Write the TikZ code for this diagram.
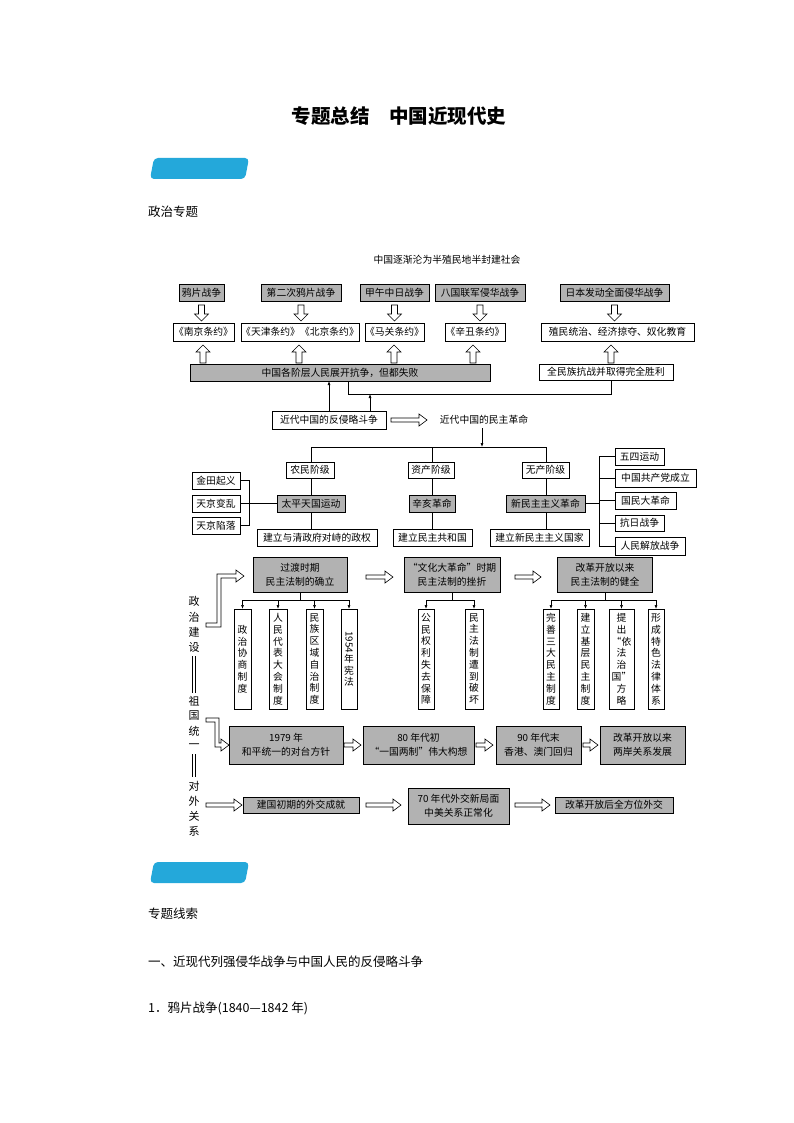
\documentclass[tikz,border=0pt]{standalone}
\usepackage{fontspec}
\setmainfont{Noto Sans CJK SC}
\usetikzlibrary{arrows.meta}
\definecolor{gbox}{RGB}{178,178,178}
\definecolor{pill}{RGB}{36,168,218}
\tikzset{
 bx/.style={draw,line width=0.6pt,inner sep=0pt,outer sep=0pt,font=\fontsize{9.8}{11}\selectfont},
 hol/.style={draw,fill=white,line width=0.6pt,line join=miter},
 arr/.style={line width=0.6pt,-{Latex[length=4pt,width=3pt]}},
 ln/.style={line width=0.6pt},
 vt/.style={font=\fontsize{11}{12}\selectfont,inner sep=0pt},
 body/.style={font=\fontsize{12.5}{14}\selectfont,anchor=west,inner sep=0pt}
}
\newcommand\bx[7]{\node[bx,fill=#6,minimum width={#3pt-#2pt},minimum height={#5pt-#4pt}] (#1) at ({(#2+#3)/2},{(#4+#5)/2}) {#7};}
\newcommand\vb[7]{\node[bx,fill=#6,minimum width={#3pt-#2pt},minimum height={#5pt-#4pt},align=center,font=\fontsize{9.8}{11.8}\selectfont] (#1) at ({(#2+#3)/2},{(#4+#5)/2}) {#7};}
\newcommand\hdn[3]{\draw[hol] ({#1-3},#2)--({#1+3},#2)--({#1+3},{#3-7})--({#1+7},{#3-7})--(#1,#3)--({#1-7},{#3-7})--({#1-3},{#3-7})--cycle;}
\newcommand\hup[3]{\draw[hol] ({#1-3},#3)--({#1+3},#3)--({#1+3},{#2+7})--({#1+7},{#2+7})--(#1,#2)--({#1-7},{#2+7})--({#1-3},{#2+7})--cycle;}
\newcommand\hrt[3]{\draw[hol] (#1,{#3-2})--({#2-8},{#3-2})--({#2-8},{#3-6})--(#2,#3)--({#2-8},{#3+6})--({#2-8},{#3+2})--(#1,{#3+2})--cycle;}
\begin{document}
\begin{tikzpicture}[x=1pt,y=-1pt]
\useasboundingbox (0,0) rectangle (794,1123);
\fill[white] (0,0) rectangle (794,1123);
% title
\node[font=\fontsize{19.5}{21}\selectfont\bfseries] (title) at (399,116) {专题总结\quad 中国近现代史};
\fill[pill,rounded corners=4pt] (154,158)--(249,158)--(245,179)--(150,179)--cycle;
\fill[pill,rounded corners=4pt] (154,862)--(249,862)--(245,883)--(150,883)--cycle;
\node[body] (zz) at (148,212) {政治专题};
\node[font=\fontsize{9.8}{11}\selectfont] (top) at (447,260) {中国逐渐沦为半殖民地半封建社会};
% row 1
\bx{a1}{179}{224}{284}{301}{gbox}{鸦片战争}
\bx{a2}{261}{341}{284}{301}{gbox}{第二次鸦片战争}
\bx{a3}{360}{429}{284}{301}{gbox}{甲午中日战争}
\bx{a4}{435}{525}{284}{301}{gbox}{八国联军侵华战争}
\bx{a5}{560}{669}{284}{301}{gbox}{日本发动全面侵华战争}
\hdn{201.5}{305}{321}\hdn{301}{305}{321}\hdn{394.5}{305}{321}\hdn{480}{305}{321}\hdn{614.5}{305}{321}
\bx{b1}{173}{234}{323}{341}{white}{《南京条约》}
\bx{b2}{241}{359}{323}{341}{white}{《天津条约》《北京条约》}
\bx{b3}{365}{424}{323}{341}{white}{《马关条约》}
\bx{b4}{445}{505}{323}{341}{white}{《辛丑条约》}
\bx{b5}{541}{694}{323}{341}{white}{殖民统治、经济掠夺、奴化教育}
\hup{203}{345}{363}\hup{299}{345}{363}\hup{394}{345}{363}\hup{473}{345}{363}\hup{611}{345}{363}
\bx{gk}{190}{490}{364}{381}{gbox}{中国各阶层人民展开抗争，但都失败}
\bx{qm}{539}{673}{364}{380}{white}{全民族抗战并取得完全胜利}
\coordinate (c1) at (348,394);
\draw[ln] (611,380) |- (c1) -- (348,381);
\bx{fq}{272}{386}{411}{429}{white}{近代中国的反侵略斗争}
\draw[arr] (329,411) -- (329,381);
\draw[arr] (370,411) -- (370,394);
\hrt{391}{427}{420}
\node[font=\fontsize{9.8}{11}\selectfont] (mz) at (484,420) {近代中国的民主革命};
\draw[arr] (482,428) -- (482,447);
\draw[ln] (311,462)--(311,447)--(546,447)--(546,462);
\draw[ln] (432,447)--(432,462);
\bx{n1}{286}{334}{462}{478}{white}{农民阶级}
\bx{n2}{408}{454}{462}{478}{white}{资产阶级}
\bx{n3}{522}{569}{462}{478}{white}{无产阶级}
\bx{e1}{277}{345}{495}{512}{gbox}{太平天国运动}
\bx{e2}{409}{455}{495}{512}{gbox}{辛亥革命}
\bx{e3}{506}{585}{495}{512}{gbox}{新民主主义革命}
\bx{r1}{257}{377}{529}{546}{white}{建立与清政府对峙的政权}
\bx{r2}{393}{472}{529}{546}{white}{建立民主共和国}
\bx{r3}{490}{589}{529}{546}{white}{建立新民主主义国家}
\draw[ln] (311,478)--(311,495) (311,512)--(311,529);
\draw[ln] (432,478)--(432,495) (432,512)--(432,529);
\draw[ln] (546,478)--(546,495) (546,512)--(546,529);
\bx{l1}{192}{240}{472}{489}{white}{金田起义}
\bx{l2}{192}{240}{495}{512}{white}{天京变乱}
\bx{l3}{192}{240}{517}{534}{white}{天京陷落}
\draw[ln] (l1.east) -| (249,525.5) -- (l3.east);
\draw[ln] (l2.east) -- (e1.west);
\bx{p1}{615}{664}{448}{465}{white}{五四运动}
\bx{p2}{615}{696}{469}{487}{white}{中国共产党成立}
\bx{p3}{615}{676}{492}{509}{white}{国民大革命}
\bx{p4}{615}{664}{515}{531}{white}{抗日战争}
\bx{p5}{615}{685}{537}{555}{white}{人民解放战争}
\draw[ln] (e3.east) -- (599,503.5);
\draw[ln] (p1.west) -| (599,546) -- (p5.west);
\draw[ln] (599,478) -- (p2.west) (599,500.5) -- (p3.west) (599,523) -- (p4.west);
% lower part
\node[bx,fill=gbox,minimum width=94pt,minimum height=35pt,align=center,font=\fontsize{9.8}{14}\selectfont] (g1) at (300,575) {过渡时期\\民主法制的确立};
\node[bx,fill=gbox,minimum width=96pt,minimum height=35pt,align=center,font=\fontsize{9.8}{14}\selectfont] (g2) at (452,575) {“文化大革命”时期\\民主法制的挫折};
\node[bx,fill=gbox,minimum width=95pt,minimum height=35pt,align=center,font=\fontsize{9.8}{14}\selectfont] (g3) at (605,575) {改革开放以来\\民主法制的健全};
\hrt{366}{393}{577}\hrt{515}{541}{577}
\draw[ln] (g1.south) -- (300,600) (242.5,600) -- (349,600);
\draw[ln] (g2.south) -- (452,600) (426,600) -- (474,600);
\draw[ln] (g3.south) -- (605,600) (551,600) -- (656,600);
\foreach \x in {242.5,278,314.5,349,426,474,551,585.5,621.5,656} \draw[arr] (\x,600) -- (\x,609);
\vb{v1}{234}{251}{609}{709}{white}{政\\治\\协\\商\\制\\度}
\vb{v2}{269}{287}{609}{709}{white}{人\\民\\代\\表\\大\\会\\制\\度}
\vb{v3}{306}{323}{609}{709}{white}{民\\族\\区\\域\\自\\治\\制\\度}
\vb{v4}{341}{357}{609}{709}{white}{\rotatebox{-90}{1954}\\年\\宪\\法}
\vb{v5}{418}{434}{609}{709}{white}{公\\民\\权\\利\\失\\去\\保\\障}
\vb{v6}{465}{483}{609}{709}{white}{民\\主\\法\\制\\遭\\到\\破\\坏}
\vb{v7}{543}{559}{609}{709}{white}{完\\善\\三\\大\\民\\主\\制\\度}
\vb{v8}{577}{594}{609}{709}{white}{建\\立\\基\\层\\民\\主\\制\\度}
\vb{v9}{609}{634}{609}{709}{white}{提\\出\\“依\\法\\治\\国”\\方\\略}
\vb{v10}{648}{664}{609}{709}{white}{形\\成\\特\\色\\法\\律\\体\\系}
% side column
\foreach \c/\y [count=\i] in {政/601,治/617,建/632,设/647,祖/701,国/716,统/731,一/746,对/786,外/801,关/816,系/831}
  \node[vt] (s\i) at (194,\y) {\c};
\draw[ln] (192.5,656)--(192.5,693) (195.5,656)--(195.5,693);
\draw[ln] (192.5,754)--(192.5,777) (195.5,754)--(195.5,777);
% bent hollow arrows
\draw[hol] (206,623)--(217,623)--(217,574)--(236,574)--(236,570)--(244,576)--(236,582)--(236,578)--(221,578)--(221,627)--(206,627)--cycle;
\draw[hol] (206,718)--(219,718)--(219,743)--(221,743)--(221,739)--(229,745)--(221,751)--(221,747)--(215,747)--(215,722)--(206,722)--cycle;
\bx{u1}{229}{343}{726}{764}{gbox}{\parbox{110pt}{\centering\fontsize{9.8}{14}\selectfont 1979 年\\和平统一的对台方针}}
\bx{u2}{363}{474}{726}{764}{gbox}{\parbox{110pt}{\centering\fontsize{9.8}{14}\selectfont 80 年代初\\“一国两制”伟大构想}}
\bx{u3}{496}{581}{726}{764}{gbox}{\parbox{84pt}{\centering\fontsize{9.8}{14}\selectfont 90 年代末\\香港、澳门回归}}
\bx{u4}{600}{685}{726}{764}{gbox}{\parbox{84pt}{\centering\fontsize{9.8}{14}\selectfont 改革开放以来\\两岸关系发展}}
\hrt{344}{361}{745}\hrt{476}{493}{745}\hrt{583}{598}{745}
\bx{f1}{243}{359}{797}{813}{gbox}{建国初期的外交成就}
\bx{f2}{408}{509}{788}{824}{gbox}{\parbox{100pt}{\centering\fontsize{9.8}{14}\selectfont 70 年代外交新局面\\中美关系正常化}}
\bx{f3}{555}{673}{797}{813}{gbox}{改革开放后全方位外交}
\hrt{206}{242}{805}\hrt{366}{401}{805}\hrt{515}{550}{805}
% bottom text
\node[body] (t1) at (148,914) {专题线索};
\node[body] (t2) at (148,962) {一、近现代列强侵华战争与中国人民的反侵略斗争};
\node[body] (t3) at (148,1008) {1．鸦片战争(1840—1842 年)};
\end{tikzpicture}
\end{document}
